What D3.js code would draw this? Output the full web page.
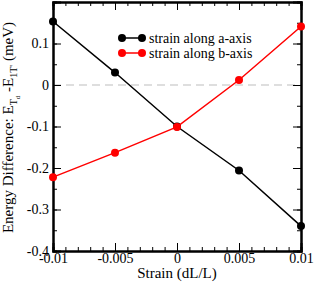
<!DOCTYPE html>
<html>
<head>
<meta charset="utf-8">
<script src="https://cdn.jsdelivr.net/npm/d3@7"></script>
<style>
  body { margin: 0; background: #fff; }
</style>
</head>
<body>
<div id="chart"></div>
<script>
var strain = [-0.01, -0.005, 0, 0.005, 0.01];
var alongA = [0.153, 0.030, -0.100, -0.206, -0.340];
var alongB = [-0.222, -0.163, -0.101, 0.012, 0.141];
var seriesNames = ["strain along a-axis", "strain along b-axis"];
var seriesColors = ["#000000", "#ff0000"];
var xTicks = [-0.01, -0.005, 0, 0.005, 0.01];
var xTickLabels = ["-0.01", "-0.005", "0", "0.005", "0.01"];
var yTicks = [-0.4, -0.3, -0.2, -0.1, 0, 0.1];
var yTickLabels = ["-0.4", "-0.3", "-0.2", "-0.1", "0", "0.1"];

var width = 314;
var height = 283;
var margin = {left: 53, right: 13, top: 2, bottom: 32};
var serif = "Liberation Serif";

var svg = d3.select("#chart")
  .append("svg")
    .attr("width", width)
    .attr("height", height);

var x = d3.scaleLinear()
    .domain([-0.01, 0.01])
    .range([margin.left, width - margin.right]);

var y = d3.scaleLinear()
    .domain([-0.4, 0.2])
    .range([height - margin.bottom, margin.top]);

// ======= zero line ========
svg.append("line")
    .attr("x1", x(-0.01)).attr("x2", x(0.01))
    .attr("y1", y(0)).attr("y2", y(0))
    .style("stroke", "#d3d3d3")
    .style("stroke-width", 1.5)
    .style("stroke-dasharray", "8,5");

// ======= axes (ticks inside, on all sides) ========
var xMinor = d3.range(-10, 11).map(function(d){ return d / 1000; });
var yMinor = d3.range(-8, 5).map(function(d){ return d / 20; });

function fmtX(d){ var i = xTicks.indexOf(d); return i < 0 ? "" : xTickLabels[i]; }
function fmtY(d){ var i = yTicks.findIndex(function(t){ return Math.abs(t - d) < 1e-9; }); return i < 0 ? "" : yTickLabels[i]; }

svg.append("g").attr("class", "axis")
    .attr("transform", "translate(0," + y(-0.4) + ")")
    .call(d3.axisBottom(x).tickValues(xTicks).tickSize(-8).tickFormat(fmtX).tickPadding(2));
svg.append("g").attr("class", "axis minor")
    .attr("transform", "translate(0," + y(-0.4) + ")")
    .call(d3.axisBottom(x).tickValues(xMinor).tickSize(-4).tickFormat(""));
svg.append("g").attr("class", "axis")
    .attr("transform", "translate(0," + y(0.2) + ")")
    .call(d3.axisTop(x).tickValues(xTicks).tickSize(-8).tickFormat(""));
svg.append("g").attr("class", "axis minor")
    .attr("transform", "translate(0," + y(0.2) + ")")
    .call(d3.axisTop(x).tickValues(xMinor).tickSize(-4).tickFormat(""));

svg.append("g").attr("class", "axis")
    .attr("transform", "translate(" + x(-0.01) + ",0)")
    .call(d3.axisLeft(y).tickValues(yTicks).tickSize(-8).tickFormat(fmtY).tickPadding(4));
svg.append("g").attr("class", "axis minor")
    .attr("transform", "translate(" + x(-0.01) + ",0)")
    .call(d3.axisLeft(y).tickValues(yMinor).tickSize(-4).tickFormat(""));
svg.append("g").attr("class", "axis")
    .attr("transform", "translate(" + x(0.01) + ",0)")
    .call(d3.axisRight(y).tickValues(yTicks).tickSize(-8).tickFormat(""));
svg.append("g").attr("class", "axis minor")
    .attr("transform", "translate(" + x(0.01) + ",0)")
    .call(d3.axisRight(y).tickValues(yMinor).tickSize(-4).tickFormat(""));

svg.selectAll(".axis").attr("font-family", serif).attr("font-size", 14);
svg.selectAll(".axis path").style("stroke", "#000").style("stroke-width", 2);
svg.selectAll(".axis line").style("stroke", "#000").style("stroke-width", 1);
svg.selectAll(".axis text").style("fill", "#000");

// ======= series ========
var line = d3.line()
    .x(function(d){ return x(d[0]); })
    .y(function(d){ return y(d[1]); });

[alongA, alongB].forEach(function(vals, k){
    var pts = strain.map(function(s, i){ return [s, vals[i]]; });
    svg.append("path")
        .datum(pts)
        .attr("d", line)
        .style("fill", "none")
        .style("stroke", seriesColors[k])
        .style("stroke-width", 1.5);
    svg.selectAll(".dot" + k)
        .data(pts)
      .enter().append("circle")
        .attr("class", "dot" + k)
        .attr("cx", function(d){ return x(d[0]); })
        .attr("cy", function(d){ return y(d[1]); })
        .attr("r", 4)
        .style("fill", seriesColors[k]);
});

// ======= legend ========
var legend = svg.append("g").attr("transform", "translate(122,38)");
seriesNames.forEach(function(name, k){
    var g = legend.append("g").attr("transform", "translate(0," + (k * 15) + ")");
    g.append("line").attr("x1", 0).attr("x2", 20)
        .style("stroke", seriesColors[k]).style("stroke-width", 1.5);
    g.append("circle").attr("cx", 0).attr("r", 4).style("fill", seriesColors[k]);
    g.append("circle").attr("cx", 20).attr("r", 4).style("fill", seriesColors[k]);
    g.append("text").attr("x", 27).attr("y", 5)
        .attr("font-family", serif)
        .attr("font-size", 14)
        .text(name);
});

// ======= axis titles ========
svg.append("text")
    .attr("x", x(0))
    .attr("y", 278)
    .attr("text-anchor", "middle")
    .attr("font-family", serif)
    .attr("font-size", 15)
    .text("Strain (dL/L)");

var yt = svg.append("text")
    .attr("transform", "translate(13," + (y(-0.1) + 1) + ") rotate(-90)")
    .attr("text-anchor", "middle")
    .attr("font-family", serif)
    .attr("font-size", 15);
yt.append("tspan").text("Energy Difference:  E");
yt.append("tspan").attr("dy", 4).attr("font-size", 10).text("T");
yt.append("tspan").attr("dy", 3).attr("font-size", 7).text("d");
yt.append("tspan").attr("dy", -7).text(" -E");
yt.append("tspan").attr("dy", 4).attr("font-size", 10).text("1T'");
yt.append("tspan").attr("dy", -4).text(" (meV)");
</script>
</body>
</html>
